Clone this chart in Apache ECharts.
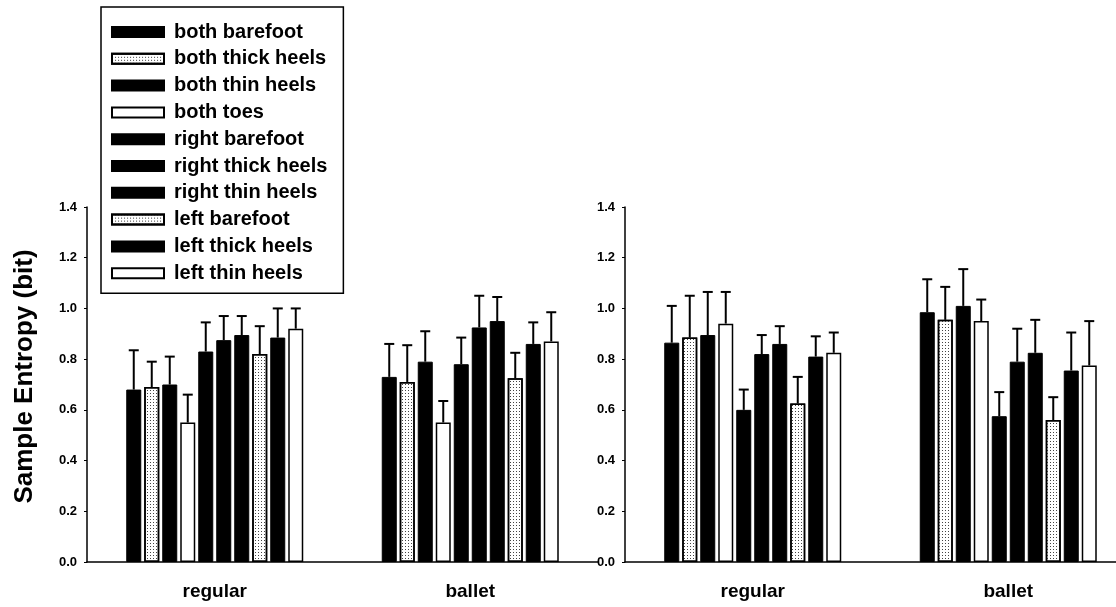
<!DOCTYPE html>
<html>
<head>
<meta charset="utf-8">
<script src="https://cdn.jsdelivr.net/npm/echarts@6/dist/echarts.min.js"></script>
<style>
html,body{margin:0;padding:0;background:#fff;overflow:hidden;width:1116px;height:607px;}
#chart{width:1160px;height:607px;}
</style>
</head>
<body>
<div id="chart"></div>
<script>
// ---- data ----
const categories = ['regular', 'ballet'];
const seriesNames = ['both barefoot', 'both thick heels', 'both thin heels', 'both toes',
  'right barefoot', 'right thick heels', 'right thin heels', 'left barefoot',
  'left thick heels', 'left thin heels'];
const yTicks = [0, 0.2, 0.4, 0.6, 0.8, 1.0, 1.2, 1.4];

// left panel
const leftRegularMean = [0.68, 0.69, 0.70, 0.55, 0.83, 0.875, 0.895, 0.82, 0.885, 0.92];
const leftRegularSD   = [0.155, 0.10, 0.11, 0.11, 0.115, 0.095, 0.075, 0.11, 0.115, 0.08];
const leftBalletMean  = [0.73, 0.71, 0.79, 0.55, 0.78, 0.925, 0.95, 0.725, 0.86, 0.87];
const leftBalletSD    = [0.13, 0.145, 0.12, 0.085, 0.105, 0.125, 0.095, 0.10, 0.085, 0.115];
// right panel
const rightRegularMean = [0.865, 0.885, 0.895, 0.94, 0.60, 0.82, 0.86, 0.625, 0.81, 0.825];
const rightRegularSD   = [0.145, 0.165, 0.17, 0.125, 0.08, 0.075, 0.07, 0.105, 0.08, 0.08];
const rightBalletMean  = [0.985, 0.955, 1.01, 0.95, 0.575, 0.79, 0.825, 0.56, 0.755, 0.775];
const rightBalletSD    = [0.13, 0.13, 0.145, 0.085, 0.095, 0.13, 0.13, 0.09, 0.15, 0.175];

// ---- styles ----
const FONT = '"Liberation Sans", Arial, sans-serif';
const fillKind = ['solid', 'dotted', 'solid', 'white', 'solid', 'solid', 'solid', 'dotted', 'solid', 'white'];
const BAR_W = 15, BAR_GAP_PX = 3;

function styleFor(kind) {
  if (kind === 'solid') return { color: '#000', borderColor: '#000', borderWidth: 1 };
  if (kind === 'white') return { color: '#fff', borderColor: '#000', borderWidth: 1.5 };
  return {
    color: '#fff', borderColor: '#000', borderWidth: 1.5,
    decal: { symbol: 'rect', symbolSize: 1, color: '#444', dashArrayX: [1, 2], dashArrayY: [1, 2], rotation: 0 }
  };
}

const chart = echarts.init(document.getElementById('chart'), null, { renderer: 'canvas' });

const series = [];
const panels = [
  { axis: 0, means: [leftRegularMean, leftBalletMean], sds: [leftRegularSD, leftBalletSD] },
  { axis: 1, means: [rightRegularMean, rightBalletMean], sds: [rightRegularSD, rightBalletSD] }
];
panels.forEach(p => {
  seriesNames.forEach((name, i) => {
    series.push({
      name: name,
      type: 'bar',
      xAxisIndex: p.axis,
      yAxisIndex: p.axis,
      barWidth: BAR_W,
      barGap: (BAR_GAP_PX / BAR_W * 100) + '%',
      itemStyle: styleFor(fillKind[i]),
      emphasis: { disabled: true },
      data: categories.map((c, ci) => p.means[ci][i])
    });
  });
  const errData = [];
  categories.forEach((c, ci) => {
    seriesNames.forEach((n, i) => errData.push([ci, i, p.means[ci][i], p.sds[ci][i]]));
  });
  series.push({
    type: 'custom',
    xAxisIndex: p.axis,
    yAxisIndex: p.axis,
    z: 5,
    silent: true,
    encode: { x: 0, y: 2 },
    data: errData,
    renderItem: function (params, api) {
      const ci = api.value(0), i = api.value(1), m = api.value(2), sd = api.value(3);
      const base = api.coord([ci, m]);
      const top = api.coord([ci, m + sd]);
      const x = base[0] + (i - (seriesNames.length - 1) / 2) * (BAR_W + BAR_GAP_PX);
      const st = { stroke: '#000', lineWidth: 2 };
      return {
        type: 'group',
        children: [
          { type: 'line', shape: { x1: x, y1: base[1], x2: x, y2: top[1] }, style: st },
          { type: 'line', shape: { x1: x - 5, y1: top[1], x2: x + 5, y2: top[1] }, style: st }
        ]
      };
    }
  });
});

function yAxisCfg(grid, withName) {
  return {
    type: 'value',
    gridIndex: grid,
    min: yTicks[0],
    max: yTicks[yTicks.length - 1],
    interval: 0.2,
    name: withName ? 'Sample Entropy (bit)' : '',
    nameLocation: 'middle',
    nameRotate: 90,
    nameGap: 49,
    nameTextStyle: { fontFamily: FONT, fontWeight: 'bold', fontSize: 26, color: '#000', padding: [0, 0, 0, 16] },
    axisLine: { show: true, lineStyle: { color: '#000', width: 1.5 } },
    axisTick: { show: true, length: 3, lineStyle: { color: '#000', width: 1 } },
    axisLabel: {
      fontFamily: FONT, fontSize: 13, fontWeight: 'bold', color: '#000', margin: 10,
      formatter: v => v.toFixed(1)
    },
    splitLine: { show: false }
  };
}
function xAxisCfg(grid) {
  return {
    type: 'category',
    gridIndex: grid,
    data: categories,
    axisLine: { show: true, lineStyle: { color: '#000', width: 1.5 } },
    axisTick: { show: false },
    axisLabel: { fontFamily: FONT, fontSize: 19, fontWeight: 'bold', color: '#000', margin: 20 }
  };
}

chart.setOption({
  animation: false,
  backgroundColor: '#fff',
  grid: [
    { left: 87, top: 207, width: 511, height: 355 },
    { left: 625, top: 207, width: 511, height: 355 }
  ],
  xAxis: [xAxisCfg(0), xAxisCfg(1)],
  yAxis: [yAxisCfg(0, true), yAxisCfg(1, false)],
  legend: {
    data: seriesNames,
    orient: 'vertical',
    left: 101,
    top: 7,
    padding: [15, 16, 10, 10],
    itemGap: 6.8,
    itemWidth: 52,
    itemHeight: 10,
    icon: 'rect',
    borderColor: '#000',
    borderWidth: 1.5,
    backgroundColor: '#fff',
    selectedMode: false,
    textStyle: { fontFamily: FONT, fontSize: 20, lineHeight: 20, fontWeight: 'bold', color: '#000', padding: [0, 0, 0, 5] }
  },
  series: series
});
</script>
</body>
</html>
